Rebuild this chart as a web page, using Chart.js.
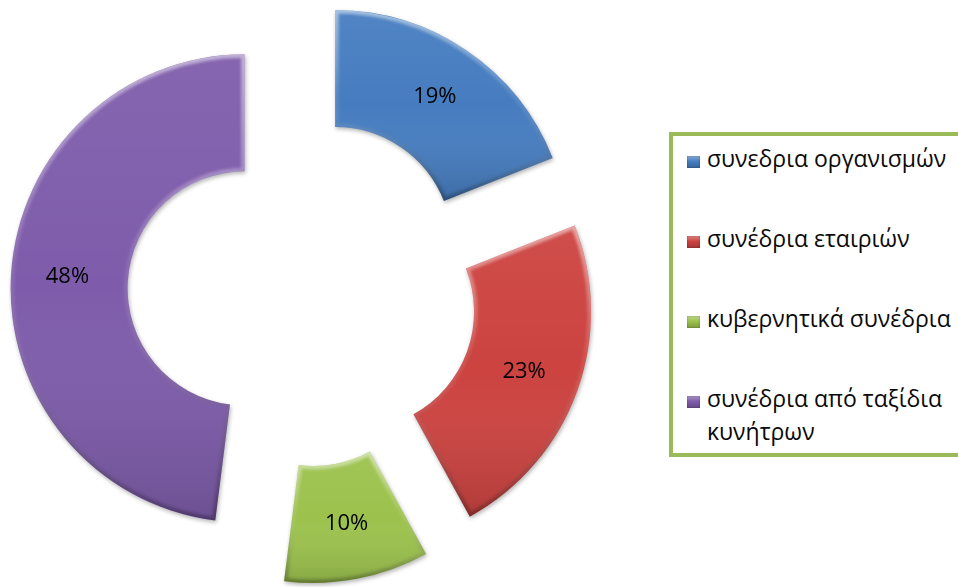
<!DOCTYPE html>
<html lang="el">
<head>
<meta charset="utf-8">
<title>Συνέδρια</title>
<script src="https://cdn.jsdelivr.net/npm/chart.js@4.4.1/dist/chart.umd.min.js"></script>
<style>
  html, body { margin: 0; padding: 0; background: #ffffff; }
  #wrap { position: relative; width: 958px; height: 587px; overflow: hidden; }
  #chart { position: absolute; left: 0; top: 0; }
  #legend {
    position: absolute; left: 669px; top: 132px; width: 330px; height: 325px;
    border: 4px solid #9BBB59; box-sizing: border-box; background: #ffffff;
    font-family: 'Open Sans', 'Noto Sans', sans-serif; font-size: 23px; color: #0a0a0a;
  }
  #legend .item { position: absolute; left: 14px; line-height: 33px; white-space: nowrap; padding-left: 20px; }
  #legend .swatch { position: absolute; left: 0; top: 14px; width: 13px; height: 12px;
    box-shadow: inset 0 0 2px rgba(0,0,0,0.35); }
</style>
</head>
<body>
<div id="wrap">
  <canvas id="chart" width="958" height="587"></canvas>
  <div id="legend"></div>
</div>
<script>
// Share of conferences by type (percent)
const categories = [
  'συνεδρια οργανισμών',
  'συνέδρια εταιριών',
  'κυβερνητικά συνέδρια',
  ['συνέδρια από ταξίδια', 'κυνήτρων']
];
const shares = [19, 23, 10, 48];

// Slice colours
const sliceColors = ['#467DC0', '#CC4340', '#9CC24D', '#7E5CAB'];

// How far every slice is pulled away from the centre (px)
const EXPLODE = 58;

function ringPath(ctx, p) {
  ctx.beginPath();
  ctx.arc(p.x, p.y, p.outerRadius, p.startAngle, p.endAngle);
  ctx.arc(p.x, p.y, p.innerRadius, p.endAngle, p.startAngle, true);
  ctx.closePath();
}

function verticalBounds(p) {
  let top = Infinity, bottom = -Infinity;
  const steps = 40;
  for (let i = 0; i <= steps; i++) {
    const a = p.startAngle + (p.endAngle - p.startAngle) * i / steps;
    for (const r of [p.innerRadius, p.outerRadius]) {
      const yy = p.y + Math.sin(a) * r;
      top = Math.min(top, yy); bottom = Math.max(bottom, yy);
    }
  }
  return { top, bottom };
}

const BaseArc = Chart.ArcElement || Chart.registry.getElement('arc');
const BaseDoughnut = Chart.DoughnutController || Chart.registry.getController('doughnut');

// Arc that is drawn pushed outwards along its bisector, with a soft bevel
class ExplodedArc extends BaseArc {
  draw(ctx, area) {
    const p = this.getProps(['x', 'y', 'startAngle', 'endAngle', 'innerRadius', 'outerRadius']);
    const mid = (p.startAngle + p.endAngle) / 2;
    ctx.save();
    ctx.translate(Math.cos(mid) * EXPLODE, Math.sin(mid) * EXPLODE);

    ctx.shadowColor = 'rgba(0,0,0,0.30)';
    ctx.shadowBlur = 4;
    ctx.shadowOffsetX = 1;
    ctx.shadowOffsetY = 2;
    super.draw(ctx, area);
    ctx.shadowColor = 'transparent';

    const b = verticalBounds(p);
    ctx.save();
    ringPath(ctx, p);
    ctx.clip();

    const body = ctx.createLinearGradient(0, b.top, 0, b.bottom);
    body.addColorStop(0, 'rgba(255,255,255,0.06)');
    body.addColorStop(0.5, 'rgba(255,255,255,0)');
    body.addColorStop(1, 'rgba(0,0,0,0.14)');
    ctx.fillStyle = body;
    ringPath(ctx, p);
    ctx.fill();

    const edge = ctx.createLinearGradient(0, b.top, 0, b.bottom);
    edge.addColorStop(0, 'rgba(255,255,255,0.50)');
    edge.addColorStop(0.45, 'rgba(255,255,255,0.10)');
    edge.addColorStop(1, 'rgba(0,0,0,0.28)');
    ctx.filter = 'blur(1.5px)';
    ctx.lineWidth = 7;
    ctx.strokeStyle = edge;
    ringPath(ctx, p);
    ctx.stroke();
    ctx.restore();

    ctx.restore();
  }
}
ExplodedArc.id = 'explodedArc';
ExplodedArc.defaults = Object.assign({}, BaseArc.defaults);
ExplodedArc.defaultRoutes = BaseArc.defaultRoutes;
ExplodedArc.descriptors = BaseArc.descriptors;

class ExplodedDoughnut extends BaseDoughnut {}
ExplodedDoughnut.id = 'explodedDoughnut';
ExplodedDoughnut.defaults = Object.assign({}, BaseDoughnut.defaults, { dataElementType: 'explodedArc' });
ExplodedDoughnut.overrides = BaseDoughnut.overrides;
ExplodedDoughnut.descriptors = BaseDoughnut.descriptors;

Chart.register(ExplodedArc, ExplodedDoughnut);

// Percentage written in the middle of every slice
const sliceLabels = {
  id: 'sliceLabels',
  afterDatasetsDraw(chart) {
    const ctx = chart.ctx;
    const meta = chart.getDatasetMeta(0);
    const values = chart.data.datasets[0].data;
    ctx.save();
    ctx.font = '22px "Open Sans", "Noto Sans", sans-serif';
    ctx.fillStyle = '#000000';
    ctx.textAlign = 'center';
    ctx.textBaseline = 'middle';
    meta.data.forEach((arc, i) => {
      const p = arc.getProps(['x', 'y', 'startAngle', 'endAngle', 'innerRadius', 'outerRadius']);
      const mid = (p.startAngle + p.endAngle) / 2;
      const r = EXPLODE + (p.innerRadius + p.outerRadius) / 2 + 2;
      ctx.fillText(values[i] + '%', p.x + Math.cos(mid) * r, p.y + Math.sin(mid) * r);
    });
    ctx.restore();
  }
};

const chart = new Chart(document.getElementById('chart'), {
  type: 'explodedDoughnut',
  data: {
    labels: categories,
    datasets: [{
      data: shares,
      backgroundColor: sliceColors,
      borderWidth: 0
    }]
  },
  options: {
    responsive: false,
    animation: false,
    cutout: '50%',
    radius: 234,
    layout: { padding: { left: 0, top: 0, right: 353, bottom: 3 } },
    plugins: {
      legend: { display: false },
      tooltip: { enabled: false }
    }
  },
  plugins: [sliceLabels]
});

// Boxed legend on the right, built from the chart's own labels and colours
(function buildLegend() {
  const box = document.getElementById('legend');
  const labels = chart.data.labels;
  const colors = chart.data.datasets[0].backgroundColor;
  labels.forEach((label, i) => {
    const item = document.createElement('div');
    item.className = 'item';
    item.style.top = (6 + 80 * i) + 'px';
    const sw = document.createElement('span');
    sw.className = 'swatch';
    sw.style.background = 'linear-gradient(to bottom, rgba(255,255,255,0.35), rgba(255,255,255,0) 45%, rgba(0,0,0,0.2)), ' + colors[i];
    item.appendChild(sw);
    const lines = Array.isArray(label) ? label : [label];
    lines.forEach((line, k) => {
      if (k > 0) item.appendChild(document.createElement('br'));
      item.appendChild(document.createTextNode(line));
    });
    box.appendChild(item);
  });
})();
</script>
</body>
</html>
